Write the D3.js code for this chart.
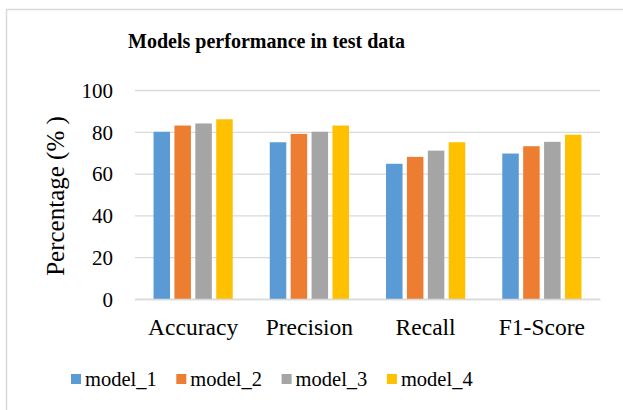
<!DOCTYPE html>
<html lang="en">
<head>
<meta charset="utf-8">
<title>Models performance in test data</title>
<script src="https://d3js.org/d3.v7.min.js"></script>
<style>
body { margin: 0; background: #fff; }
</style>
</head>
<body>
<script>
// data
const metrics = ["Accuracy", "Precision", "Recall", "F1-Score"];
const models = ["model_1", "model_2", "model_3", "model_4"];
const model_1 = [80, 75, 64.7, 69.6];
const model_2 = [83, 79, 68, 73.1];
const model_3 = [84, 80, 71, 75.2];
const model_4 = [86, 83, 75, 78.6];
const yTicks = [0, 20, 40, 60, 80, 100];
const colors = ["#5B9BD5", "#ED7D31", "#A5A5A5", "#FFC000"];

const seriesValues = [model_1, model_2, model_3, model_4];
const data = metrics.map((m, i) => ({
    metric: m,
    values: models.map((k, j) => ({ model: k, value: seriesValues[j][i] }))
}));

const serif = "'Liberation Serif', 'Times New Roman', Times, serif";
const svgWidth = 623, svgHeight = 410;
const plotLeft = 135, plotRight = 600, plotTop = 90, plotBottom = 299;

const svg = d3.select("body").append("svg")
    .attr("width", svgWidth)
    .attr("height", svgHeight);

// chart frame
svg.append("rect")
    .attr("x", 6.5).attr("y", 9.5)
    .attr("width", 640).attr("height", 420)
    .attr("fill", "none")
    .attr("stroke", "#d9d9d9")
    .attr("stroke-width", 1.5);

const x = d3.scaleBand().domain(metrics).range([plotLeft, plotRight]).padding(0);
const x1 = d3.scaleBand().domain(models).range([0, x.bandwidth()])
    .paddingInner(0.21).paddingOuter(0.886);
const y = d3.scaleLinear().domain([0, 100]).range([plotBottom, plotTop]);

// gridlines + y labels
const yAxis = d3.axisLeft(y).tickValues(yTicks).tickSize(-(plotRight - plotLeft)).tickPadding(22);
const gy = svg.append("g")
    .attr("transform", "translate(" + plotLeft + ",0)")
    .call(yAxis);
gy.select(".domain").remove();
gy.selectAll(".tick line").attr("stroke", "#d9d9d9").attr("stroke-width", 1.3);
gy.selectAll(".tick text")
    .style("font-family", serif)
    .style("font-size", "21px")
    .attr("fill", "#000")
    .attr("dy", "0.35em");

// bars
const groups = svg.selectAll("g.grp")
    .data(data)
    .join("g")
    .attr("class", "grp")
    .attr("transform", d => "translate(" + x(d.metric) + ",0)");

groups.selectAll("rect")
    .data(d => d.values)
    .join("rect")
    .attr("x", d => x1(d.model))
    .attr("y", d => y(d.value))
    .attr("width", x1.bandwidth())
    .attr("height", d => y(0) - y(d.value))
    .attr("fill", (d, i) => colors[i]);

// x axis
const xAxis = d3.axisBottom(x).tickSize(0).tickPadding(19);
const gx = svg.append("g")
    .attr("transform", "translate(0," + plotBottom + ")")
    .call(xAxis);
gx.select(".domain").attr("stroke", "#d9d9d9").attr("stroke-width", 1.3);
gx.selectAll(".tick text")
    .style("font-family", serif)
    .style("font-size", "23.5px")
    .attr("fill", "#000");

// title
svg.append("text")
    .attr("x", 266.5).attr("y", 48)
    .attr("text-anchor", "middle")
    .attr("textLength", 277)
    .attr("lengthAdjust", "spacingAndGlyphs")
    .style("font-family", serif)
    .style("font-size", "21.5px")
    .style("font-weight", "bold")
    .text("Models performance in test data");

// y title
svg.append("text")
    .attr("transform", "translate(64,196) rotate(-90)")
    .attr("text-anchor", "middle")
    .style("font-family", serif)
    .style("font-size", "25px")
    .text("Percentage (% )");

// legend
const legend = svg.append("g").attr("transform", "translate(71,0)");
const item = legend.selectAll("g")
    .data(models)
    .join("g")
    .attr("transform", (d, i) => "translate(" + (i * 105.3) + ",0)");
item.append("rect")
    .attr("x", 0).attr("y", 374)
    .attr("width", 10).attr("height", 10)
    .attr("fill", (d, i) => colors[i]);
item.append("text")
    .attr("x", 14).attr("y", 386)
    .style("font-family", serif)
    .style("font-size", "20.5px")
    .text(d => d);
</script>
</body>
</html>
